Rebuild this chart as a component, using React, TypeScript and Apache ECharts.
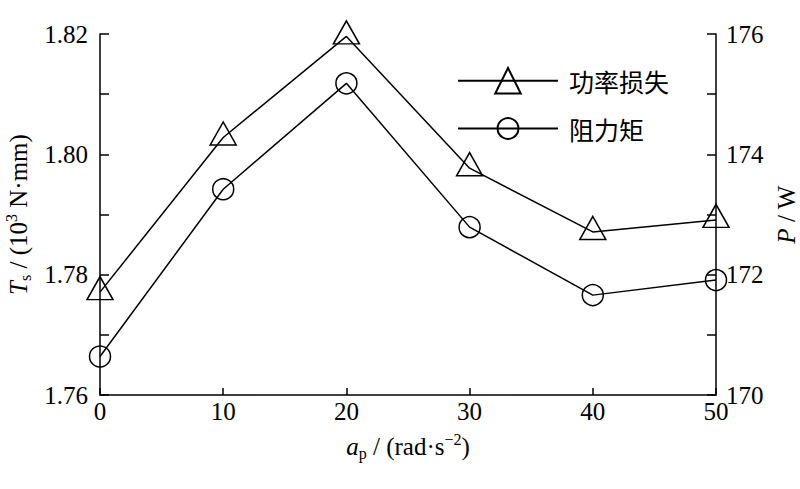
import React, { useEffect, useRef } from "react";
import * as echarts from "echarts";

const xValues = [0, 10, 20, 30, 40, 50];
const powerLoss = [171.71, 174.28, 175.96, 173.77, 172.71, 172.91]; // P / W (right axis)
const torque = [1.7664, 1.7942, 1.8118, 1.7879, 1.7766, 1.7791]; // Ts (left axis)
const seriesNames = ["功率损失", "阻力矩"];

const SERIF = "'Liberation Serif', 'Times New Roman', serif";
const FS = 25;

const richBase = {
  n: { fontFamily: SERIF, fontSize: FS, lineHeight: 30, color: "#000" },
  i: { fontFamily: SERIF, fontSize: FS, lineHeight: 30, fontStyle: "italic", color: "#000" },
  sub: { fontFamily: SERIF, fontSize: 16, lineHeight: 18, verticalAlign: "bottom", color: "#000" },
  sup: { fontFamily: SERIF, fontSize: 16, lineHeight: 18, verticalAlign: "top", color: "#000" },
};

const richRight = {
  n: { fontFamily: SERIF, fontSize: FS, lineHeight: 24, color: "#000" },
  i: { fontFamily: SERIF, fontSize: FS, lineHeight: 24, fontStyle: "italic", color: "#000" },
};

export default function App() {
  const ref = useRef<HTMLDivElement>(null);
  useEffect(() => {
    if (!ref.current) return;
    const chart = echarts.init(ref.current, undefined, { renderer: "svg" });
    const axisLine = { show: true, lineStyle: { color: "#000", width: 1.5 } };
    const labelStyle = { fontFamily: SERIF, fontSize: FS, color: "#000" };
    chart.setOption({
      animation: false,
      backgroundColor: "#fff",
      grid: { left: 100, right: 84, top: 34, bottom: 94, containLabel: false, outerBoundsMode: "none" },
      legend: [
        {
          data: [seriesNames[0]],
          left: 452,
          top: 62,
          itemWidth: 100,
          itemHeight: 32,
          textStyle: { fontFamily: "'Noto Sans CJK SC'", fontSize: 25, color: "#000", padding: [0, 0, 0, 6] },
        },
        {
          data: [seriesNames[1]],
          left: 452,
          top: 111,
          itemWidth: 100,
          itemHeight: 26,
          textStyle: { fontFamily: "'Noto Sans CJK SC'", fontSize: 25, color: "#000", padding: [0, 0, 0, 6] },
        },
      ],
      xAxis: {
        type: "value",
        min: 0,
        max: 50,
        interval: 10,
        axisLine,
        axisTick: { show: true, inside: true, length: 7, lineStyle: { color: "#000", width: 1.5 } },
        axisLabel: { ...labelStyle, margin: 4 },
        splitLine: { show: false },
        name: "{i|a}{sub|p}{n| / (rad·s}{sup|−2}{n|)}",
        nameLocation: "middle",
        nameGap: 36,
        nameTextStyle: { rich: richBase },
      },
      yAxis: [
        {
          type: "value",
          position: "left",
          min: 1.76,
          max: 1.82,
          interval: 0.02,
          axisLine,
          axisTick: { show: true, inside: true, length: 9, lineStyle: { color: "#000", width: 1.5 } },
          minorTick: { show: true, splitNumber: 2, length: 9, lineStyle: { color: "#000", width: 1.5 } },
          axisLabel: { ...labelStyle, margin: 12, formatter: (v: number) => v.toFixed(2) },
          splitLine: { show: false },
          name: "{i|T}{sub|s}{n| / (10}{sup|3}{n| N·mm)}",
          nameLocation: "middle",
          nameGap: 62,
          nameRotate: 90,
          nameTextStyle: { rich: richBase },
        },
        {
          type: "value",
          position: "right",
          min: 170,
          max: 176,
          interval: 2,
          axisLine,
          axisTick: { show: true, inside: true, length: 9, lineStyle: { color: "#000", width: 1.5 } },
          minorTick: { show: true, splitNumber: 2, length: 9, lineStyle: { color: "#000", width: 1.5 } },
          axisLabel: { ...labelStyle, margin: 10 },
          splitLine: { show: false },
          name: "{i|P}{n| / W}",
          nameLocation: "middle",
          nameGap: 57,
          nameRotate: 90,
          nameTextStyle: { rich: richRight },
        },
      ],
      series: [
        {
          name: seriesNames[0],
          type: "line",
          yAxisIndex: 1,
          data: xValues.map((x, k) => [x, powerLoss[k]]),
          symbol: "triangle",
          symbolSize: [26, 23],
          symbolOffset: [0, -4],
          showAllSymbol: true,
          lineStyle: { color: "#000", width: 1.5 },
          itemStyle: { color: "rgba(0,0,0,0)", borderColor: "#000", borderWidth: 1.5 },
          z: 3,
        },
        {
          name: seriesNames[1],
          type: "line",
          yAxisIndex: 0,
          data: xValues.map((x, k) => [x, torque[k]]),
          symbol: "circle",
          symbolSize: 21,
          showAllSymbol: true,
          lineStyle: { color: "#000", width: 1.5 },
          itemStyle: { color: "rgba(0,0,0,0)", borderColor: "#000", borderWidth: 1.5 },
          z: 3,
        },
      ],
    });
    return () => chart.dispose();
  }, []);
  return (
    <div
      ref={ref}
      style={{ position: "fixed", left: 0, top: 0, width: 800, height: 489 }}
    />
  );
}
